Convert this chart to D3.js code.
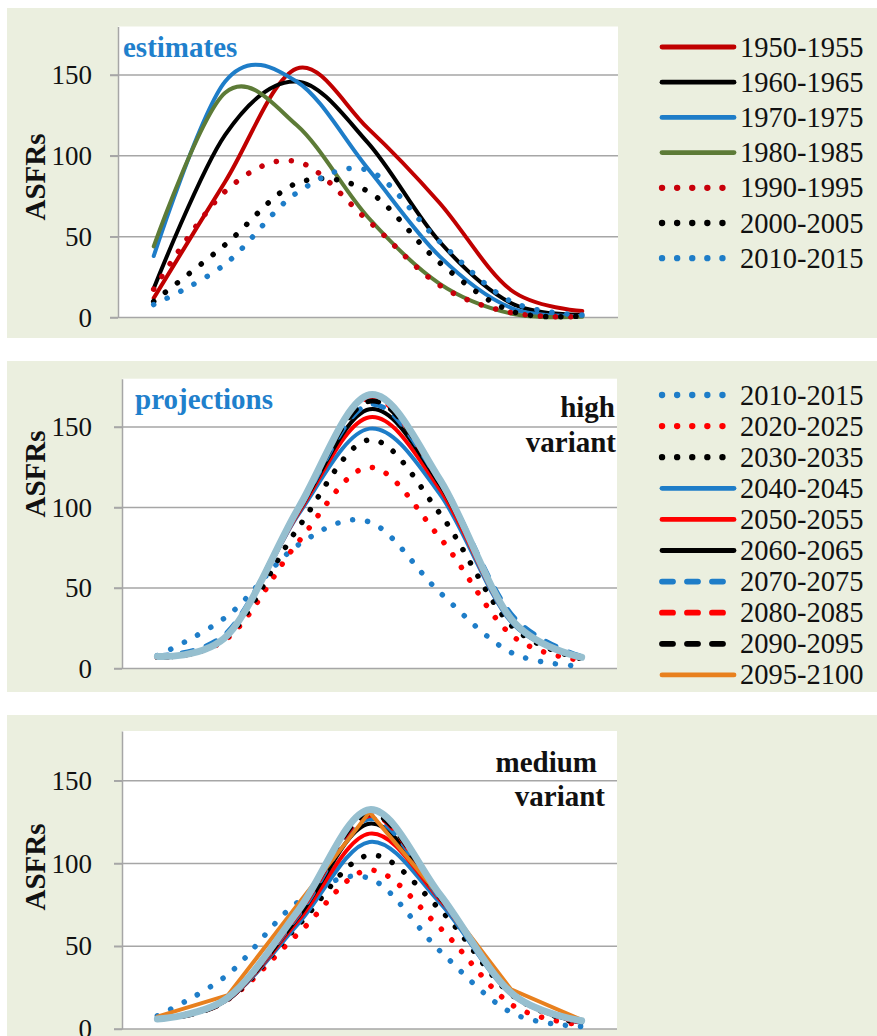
<!DOCTYPE html>
<html>
<head>
<meta charset="utf-8">
<script src="https://cdn.jsdelivr.net/npm/d3@7"></script>
<style>
  body { margin: 0; background: #ffffff; }
  svg text { font-family: "Liberation Serif", "Times New Roman", serif; }
</style>
</head>
<body>
<svg id="chart" width="877" height="1036"></svg>
<script>
// Age groups of mothers (categories on the x axis, labels not shown)
const ageGroups = ["15-19", "20-24", "25-29", "30-34", "35-39", "40-44", "45-49"];
const yTicks = [0, 50, 100, 150];
const yMax = 180;

// Age-specific fertility rates (births per 1000 women), estimates
const est1950 = [12, 84, 154, 117, 71, 17, 4];
const est1960 = [18, 113, 146, 108, 47, 9, 1.5];
const est1970 = [38, 146, 146, 92, 38, 6, 1];
const est1980 = [44, 139, 119, 62, 21, 2.5, 0.5];
const est1990 = [17.5, 78, 96.5, 60, 20, 3, 0.5];
const est2000 = [10, 45, 83, 78, 34, 4, 1];
const est2010 = [8, 33, 77, 91, 47, 10, 1.5];

// Projections, high variant
const high2020 = [7, 19, 79, 125, 81, 21, 5];
const high2030 = [7, 20, 88, 142, 96, 27, 6];
const high2040 = [7, 21, 96, 149, 108, 29, 7];
const high2050 = [7, 21, 97, 156, 111, 30, 7];
const high2060 = [7, 21, 98, 161, 114, 30, 7];
const high2070 = [8, 23, 99, 164, 116, 34, 7.5];
const high2080 = [7, 21, 100, 168, 116, 31, 7];
const high2090 = [7, 21, 100, 166, 117, 31, 7];
const high2095 = [7.5, 21, 100, 170, 117, 31, 7];
const highEnd = [7.5, 21, 100, 170, 117, 31, 7];

// Projections, medium variant
const med2020 = [6, 18, 58, 96, 61, 15, 2.5];
const med2030 = [6, 18, 63, 105, 72, 21, 3];
const med2040 = [6, 18, 64, 113, 76, 21, 4];
const med2050 = [6, 18, 66, 118, 78, 22, 4];
const med2060 = [6, 18, 68, 124, 79, 22, 4];
const med2070 = [6, 18, 69, 127, 79, 22, 4];
const med2080 = [6, 18, 70, 129, 80, 22, 4];
const med2090 = [6, 18, 71, 130, 80, 22, 4.5];
const med2095 = [7.5, 20.5, 76, 131, 80, 24, 5.5];
const medEnd = [6, 19, 72, 132.5, 81, 22, 5];

// Line styles
const DOT = "0.1 15";
const DASH = "11 14";
const sty = {
  darkRed:   { color: "#c00000", dash: null, width: 4 },
  black:     { color: "#000000", dash: null, width: 4 },
  blue:      { color: "#1e7dc8", dash: null, width: 4 },
  olive:     { color: "#5d7b37", dash: null, width: 4 },
  darkRedDot:{ color: "#c8000a", dash: DOT, width: 5.5 },
  blackDot:  { color: "#000000", dash: DOT, width: 5.5 },
  blueDot:   { color: "#1e7dc8", dash: DOT, width: 5.5 },
  redDot:    { color: "#ff0000", dash: DOT, width: 5.5 },
  red:       { color: "#ff0000", dash: null, width: 4 },
  blueDash:  { color: "#1e7dc8", dash: DASH, width: 5 },
  redDash:   { color: "#ff0000", dash: DASH, width: 5 },
  blackDash: { color: "#000000", dash: DASH, width: 5 },
  orange:    { color: "#e8801e", dash: null, width: 4 },
  paleBlue:  { color: "#96bfcf", dash: null, width: 7 }
};

const panels = [
  {
    bg: { y: 8, h: 330 },
    left: 118, right: 618, top: 26.5, zero: 317.5,
    yTitleY: 177,
    title: { text: "estimates", x: 123, y: 57, color: "#1f80cc", anchor: "start" },
    notes: [],
    legend: { y0: 47, step: 35.2 },
    series: [
      { label: "1950-1955", values: est1950, style: sty.darkRed },
      { label: "1960-1965", values: est1960, style: sty.black },
      { label: "1970-1975", values: est1970, style: sty.blue },
      { label: "1980-1985", values: est1980, style: sty.olive },
      { label: "1990-1995", values: est1990, style: sty.darkRedDot },
      { label: "2000-2005", values: est2000, style: sty.blackDot },
      { label: "2010-2015", values: est2010, style: sty.blueDot }
    ]
  },
  {
    bg: { y: 361, h: 331 },
    left: 122, right: 617, top: 378.7, zero: 668.5,
    yTitleY: 474,
    title: { text: "projections", x: 135, y: 409, color: "#1f80cc", anchor: "start" },
    notes: [
      { text: "high", x: 615, y: 417 },
      { text: "variant", x: 616, y: 452 }
    ],
    legend: { y0: 395, step: 31.1 },
    series: [
      { label: "2010-2015", values: est2010, style: sty.blueDot },
      { label: "2020-2025", values: high2020, style: sty.redDot },
      { label: "2030-2035", values: high2030, style: sty.blackDot },
      { label: "2040-2045", values: high2040, style: sty.blue },
      { label: "2050-2055", values: high2050, style: sty.red },
      { label: "2060-2065", values: high2060, style: sty.black },
      { label: "2070-2075", values: high2070, style: sty.blueDash },
      { label: "2080-2085", values: high2080, style: sty.redDash },
      { label: "2090-2095", values: high2090, style: sty.blackDash },
      { label: "2095-2100", values: high2095, style: sty.orange },
      { label: null, values: highEnd, style: sty.paleBlue }
    ]
  },
  {
    bg: { y: 715, h: 321 },
    left: 122, right: 617, top: 731, zero: 1029,
    yTitleY: 867,
    title: null,
    notes: [
      { text: "medium", x: 597, y: 772 },
      { text: "variant", x: 605, y: 806 }
    ],
    legend: null,
    series: [
      { label: "2010-2015", values: est2010, style: sty.blueDot },
      { label: "2020-2025", values: med2020, style: sty.redDot },
      { label: "2030-2035", values: med2030, style: sty.blackDot },
      { label: "2040-2045", values: med2040, style: sty.blue },
      { label: "2050-2055", values: med2050, style: sty.red },
      { label: "2060-2065", values: med2060, style: sty.black },
      { label: "2070-2075", values: med2070, style: sty.blueDash },
      { label: "2080-2085", values: med2080, style: sty.redDash },
      { label: "2090-2095", values: med2090, style: sty.blackDash },
      { label: "2095-2100", values: med2095, style: sty.orange, linear: true },
      { label: null, values: medEnd, style: sty.paleBlue }
    ]
  }
];

const svg = d3.select("#chart");
const GRID = "#a6a6a6";

function applyStroke(sel, s, legend) {
  sel.attr("fill", "none")
    .attr("stroke", s.color)
    .attr("stroke-width", legend ? s.width + 0.8 : s.width)
    .attr("stroke-linecap", "round")
    .attr("stroke-linejoin", "round");
  if (s.dash) sel.attr("stroke-dasharray", s.dash);
}

panels.forEach(p => {
  const g = svg.append("g");

  // panel background
  g.append("rect")
    .attr("x", 7).attr("y", p.bg.y)
    .attr("width", 870).attr("height", p.bg.h)
    .attr("fill", "#ebefdf");

  // plot area
  g.append("rect")
    .attr("x", p.left).attr("y", p.top)
    .attr("width", p.right - p.left).attr("height", p.zero - p.top)
    .attr("fill", "#ffffff");

  const x = d3.scalePoint().domain(ageGroups).range([p.left, p.right]).padding(0.5);
  const y = d3.scaleLinear().domain([0, yMax]).range([p.zero, p.top]);

  // horizontal gridlines (extend across the tick marks)
  g.append("g").selectAll("line")
    .data(yTicks)
    .join("line")
    .attr("x1", p.left - 8).attr("x2", p.right)
    .attr("y1", d => y(d)).attr("y2", d => y(d))
    .attr("stroke", GRID).attr("stroke-width", 1.5);

  // y axis
  const axis = d3.axisLeft(y).tickValues(yTicks).tickSize(8).tickSizeOuter(0)
    .tickPadding(p.left - 8 - 92);
  const ag = g.append("g").attr("transform", `translate(${p.left},0)`).call(axis);
  ag.select(".domain").attr("stroke", GRID).attr("stroke-width", 1.5);
  ag.selectAll(".tick line").attr("stroke", GRID).attr("stroke-width", 1.5);
  ag.selectAll(".tick text")
    .attr("fill", "#111")
    .style("font-family", "'Liberation Serif', serif")
    .style("font-size", "27px");

  // y axis title
  g.append("text")
    .attr("transform", `translate(45,${p.yTitleY}) rotate(-90)`)
    .attr("text-anchor", "middle")
    .attr("font-weight", "bold")
    .attr("font-size", 29)
    .attr("fill", "#111")
    .text("ASFRs");

  // series
  p.series.forEach(s => {
    const line = d3.line()
      .x((d, i) => x(ageGroups[i]))
      .y(d => y(d))
      .curve(s.linear ? d3.curveLinear : d3.curveCardinal.tension(0));
    g.append("path")
      .attr("d", line(s.values))
      .call(applyStroke, s.style, false);
  });

  // panel title and variant note
  if (p.title) {
    g.append("text")
      .attr("x", p.title.x).attr("y", p.title.y)
      .attr("fill", p.title.color)
      .attr("font-weight", "bold")
      .attr("font-size", 29)
      .attr("text-anchor", p.title.anchor)
      .text(p.title.text);
  }
  p.notes.forEach(n => {
    g.append("text")
      .attr("x", n.x).attr("y", n.y)
      .attr("text-anchor", "end")
      .attr("font-weight", "bold")
      .attr("font-size", 29)
      .attr("fill", "#111")
      .text(n.text);
  });

  // legend
  if (p.legend) {
    const items = p.series.filter(s => s.label);
    const lg = g.append("g");
    items.forEach((s, i) => {
      const cy = p.legend.y0 + i * p.legend.step;
      lg.append("line")
        .attr("x1", 662).attr("x2", 734)
        .attr("y1", cy).attr("y2", cy)
        .call(applyStroke, s.style, true);
      lg.append("text")
        .attr("x", 740).attr("y", cy + 9.5)
        .attr("font-size", 28.5)
        .attr("fill", "#111")
        .text(s.label);
    });
  }
});
</script>
</body>
</html>
